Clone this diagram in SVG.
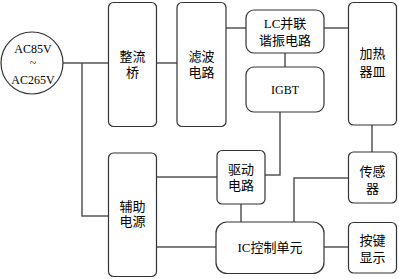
<svg xmlns="http://www.w3.org/2000/svg" width="399" height="279" viewBox="0 0 399 279">
<style>
.b{fill:#fff;stroke:#333;stroke-width:1.2}
.l{fill:none;stroke:#555;stroke-width:1.5}
.t{font-family:"Liberation Serif","Noto Sans CJK SC",serif;font-size:13px;fill:#000;text-anchor:middle}
.e{font-family:"Liberation Serif",serif;font-size:12px;fill:#000;text-anchor:middle}
</style>
<rect width="399" height="279" fill="#fff"/>
<g id="connectors">
<path class="l" d="M63 63H108"/>
<path class="l" d="M82 63V216H108"/>
<path class="l" d="M157 63H177"/>
<path class="l" d="M226 28H246"/>
<path class="l" d="M324 28H348"/>
<path class="l" d="M285 53V67"/>
<path class="l" d="M280 112V175H265"/>
<path class="l" d="M372 125V152"/>
<path class="l" d="M157 177H217"/>
<path class="l" d="M241 204V222"/>
<path class="l" d="M294 222V178H348"/>
<path class="l" d="M157 247H216"/>
<path class="l" d="M324 247H348"/>
</g>
<g id="source">
<circle class="b" cx="32" cy="63" r="31"/>
<text class="e" x="33" y="53">AC85V</text>
<text class="e" x="33" y="67">~</text>
<text class="e" x="33" y="84">AC265V</text>
</g>
<g id="rectifier">
<rect class="b" x="108.5" y="2.5" width="48" height="124" rx="5"/>
<text class="t" x="132.5" y="61">整流</text>
<text class="t" x="132.5" y="77">桥</text>
</g>
<g id="filter">
<rect class="b" x="177" y="2.5" width="49" height="124" rx="5"/>
<text class="t" x="201.5" y="61">滤波</text>
<text class="t" x="201.5" y="77">电路</text>
</g>
<g id="lc">
<rect class="b" x="246" y="10" width="78" height="43" rx="8"/>
<text class="t" x="285" y="28">LC并联</text>
<text class="t" x="285" y="45">谐振电路</text>
</g>
<g id="igbt">
<rect class="b" x="246" y="67" width="78" height="45" rx="8"/>
<text class="e" x="285" y="94">IGBT</text>
</g>
<g id="heater">
<rect class="b" x="348.5" y="2.5" width="48" height="122.5" rx="5"/>
<text class="t" x="372.5" y="58">加热</text>
<text class="t" x="372.5" y="76">器皿</text>
</g>
<g id="sensor">
<rect class="b" x="348.5" y="152" width="48" height="51" rx="5"/>
<text class="t" x="372.5" y="176">传感</text>
<text class="t" x="372.5" y="193">器</text>
</g>
<g id="driver">
<rect class="b" x="217" y="150.5" width="48" height="53.5" rx="5"/>
<text class="t" x="241" y="174">驱动</text>
<text class="t" x="241" y="190">电路</text>
</g>
<g id="aux">
<rect class="b" x="108.5" y="153" width="48" height="123.5" rx="5"/>
<text class="t" x="132.5" y="211">辅助</text>
<text class="t" x="132.5" y="226">电源</text>
</g>
<g id="ic">
<rect class="b" x="216" y="222" width="108" height="51.5" rx="11"/>
<text class="t" x="270" y="252">IC控制单元</text>
</g>
<g id="keys">
<rect class="b" x="348.5" y="222.5" width="48" height="50.5" rx="5"/>
<text class="t" x="372.5" y="245">按键</text>
<text class="t" x="372.5" y="262">显示</text>
</g>
</svg>
